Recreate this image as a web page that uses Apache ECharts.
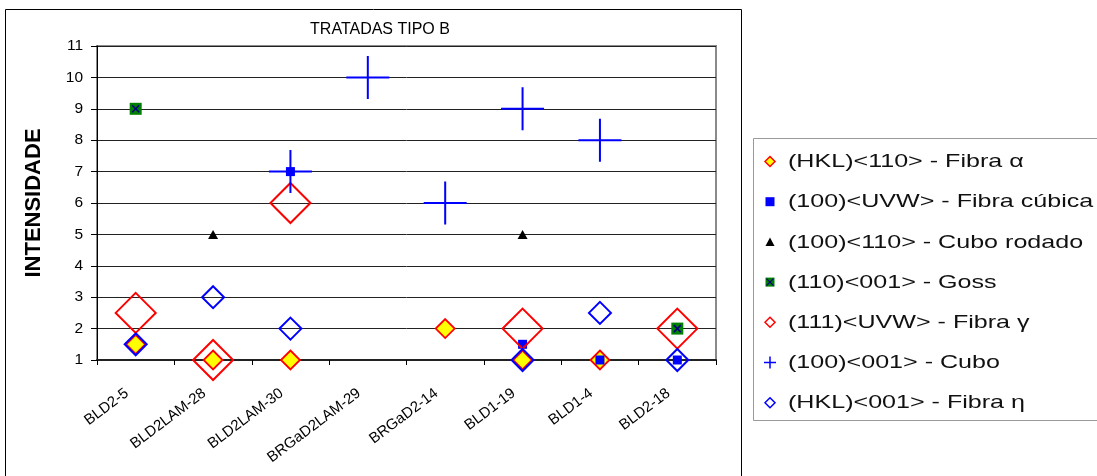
<!DOCTYPE html>
<html>
<head>
<meta charset="utf-8">
<script src="https://cdn.jsdelivr.net/npm/echarts@6/dist/echarts.min.js"></script>
<style>
html,body{margin:0;padding:0;background:#fff;}
#chart{width:1097px;height:476px;}
</style>
</head>
<body>
<div id="chart"></div>
<script>
// ---- data ----
const categories = ['BLD2-5', 'BLD2LAM-28', 'BLD2LAM-30', 'BRGaD2LAM-29', 'BRGaD2-14', 'BLD1-19', 'BLD1-4', 'BLD2-18'];
const seriesNames = [
  '(HKL)<110> - Fibra α',
  '(100)<UVW> - Fibra cúbica',
  '(100)<110> - Cubo rodado',
  '(110)<001> - Goss',
  '(111)<UVW> - Fibra γ',
  '(100)<001> - Cubo',
  '(HKL)<001> - Fibra η'
];
const fibraAlpha  = [1.5, 1, 1, null, 2, 1, 1, null];
const fibraCubica = [null, null, 7, null, null, 1.5, 1, 1];
const cuboRodado  = [null, 5, null, null, null, 5, null, null];
const goss        = [9, null, null, null, null, null, null, 2];
const fibraGamma  = [2.5, 1, 6, null, null, 2, null, 2];
const cubo        = [null, null, 7, 10, 6, 9, 8, null];
const fibraEta    = [1.5, 3, 2, null, null, 1, 2.5, 1];
const chartTitle = 'TRATADAS TIPO B';
const yAxisTitle = 'INTENSIDADE';
const yMin = 1, yMax = 11, yStep = 1;

// ---- chart ----
const prep = a => a.map(v => (v == null ? '-' : v));
const PLUS = 'path://M0,22H44M22,0V44';
const XMARK = 'path://M0,0L10,10M10,0L0,10';
const FONT = '"Liberation Sans", Arial, sans-serif';

const chart = echarts.init(document.getElementById('chart'), null, {renderer: 'canvas'});

function legendIcon(i, cy) {
  const cx = 770, s = 5;
  const diamond = (fill, stroke) => ({type: 'polygon', shape: {points: [[cx, cy - s], [cx + s, cy], [cx, cy + s], [cx - s, cy]]}, style: {fill: fill, stroke: stroke, lineWidth: 1.5}});
  switch (i) {
    case 0: return [diamond('#FFFF00', '#FF0000')];
    case 1: return [{type: 'rect', shape: {x: cx - 4.5, y: cy - 4.5, width: 9, height: 9}, style: {fill: '#0000FF'}}];
    case 2: return [{type: 'polygon', shape: {points: [[cx, cy - 4.5], [cx + 4.5, cy + 4], [cx - 4.5, cy + 4]]}, style: {fill: '#000'}}];
    case 3: return [
      {type: 'rect', shape: {x: cx - 4.5, y: cy - 4.5, width: 9, height: 9}, style: {fill: '#008000'}},
      {type: 'polyline', shape: {points: [[cx - 3.5, cy - 3.5], [cx + 3.5, cy + 3.5]]}, style: {stroke: '#000080', lineWidth: 1.3, fill: null}},
      {type: 'polyline', shape: {points: [[cx + 3.5, cy - 3.5], [cx - 3.5, cy + 3.5]]}, style: {stroke: '#000080', lineWidth: 1.3, fill: null}}
    ];
    case 4: return [diamond(null, '#FF0000')];
    case 5: return [
      {type: 'line', shape: {x1: cx - 6, y1: cy, x2: cx + 6, y2: cy}, style: {stroke: '#0000FF', lineWidth: 1.5}},
      {type: 'line', shape: {x1: cx, y1: cy - 6, x2: cx, y2: cy + 6}, style: {stroke: '#0000FF', lineWidth: 1.5}}
    ];
    case 6: return [diamond(null, '#0000FF')];
  }
}

const legendTop = 161.5, legendStep = 40.2;
const graphics = [
  {type: 'rect', shape: {x: 5.5, y: 9.5, width: 736, height: 500}, style: {fill: null, stroke: '#000', lineWidth: 1}, silent: true},
  {type: 'rect', shape: {x: 753.5, y: 138.5, width: 400, height: 282}, style: {fill: '#fff', stroke: '#9a9a9a', lineWidth: 1}, silent: true}
];
seriesNames.forEach((name, i) => {
  const cy = legendTop + i * legendStep;
  legendIcon(i, cy).forEach(g => { g.silent = true; graphics.push(g); });
  graphics.push({
    type: 'text', x: 788, y: cy + 0.5, scaleX: 1.32, silent: true,
    style: {text: name, fill: '#111', font: '19px ' + FONT, verticalAlign: 'middle', align: 'left'}
  });
});

const option = {
  animation: false,
  backgroundColor: '#fff',
  title: {
    text: chartTitle, left: 375, top: 17, textAlign: 'center',
    textStyle: {fontFamily: FONT, fontSize: 16, fontWeight: 'normal', color: '#000'}
  },
  grid: {left: 97, right: 381, top: 46, bottom: 116, show: true, borderColor: '#8a8a8a', borderWidth: 2, backgroundColor: 'transparent'},
  xAxis: {
    type: 'category', data: categories, boundaryGap: true,
    axisLine: {lineStyle: {color: '#222', width: 2}},
    axisTick: {show: true, length: 5, alignWithLabel: false, lineStyle: {color: '#000'}},
    axisLabel: {rotate: 37, fontFamily: FONT, fontSize: 15, color: '#000', margin: 25, padding: [0, 11, 0, 0], interval: 0},
    splitLine: {show: false}
  },
  yAxis: {
    type: 'value', min: yMin, max: yMax, interval: yStep,
    name: yAxisTitle, nameLocation: 'middle', nameGap: 52, nameRotate: 90,
    nameTextStyle: {fontFamily: FONT, fontSize: 22, fontWeight: 'bold', color: '#000'},
    axisLine: {show: true, lineStyle: {color: '#000', width: 1}},
    axisTick: {show: true, length: 6, lineStyle: {color: '#000'}},
    axisLabel: {fontFamily: FONT, fontSize: 15.5, color: '#000', margin: 14},
    splitLine: {show: true, lineStyle: {color: '#222', width: 1}}
  },
  graphic: graphics,
  series: [
    {name: seriesNames[0], type: 'scatter', data: prep(fibraAlpha), symbol: 'diamond', symbolSize: 19, clip: false,
     itemStyle: {color: '#FFFF00', borderColor: '#FF0000', borderWidth: 1.8, opacity: 1}},
    {name: seriesNames[1], type: 'scatter', data: prep(fibraCubica), symbol: 'rect', symbolSize: 9, clip: false,
     itemStyle: {color: '#0000FF', opacity: 1}},
    {name: seriesNames[2], type: 'scatter', data: prep(cuboRodado), symbol: 'triangle', symbolSize: [10, 9], clip: false,
     itemStyle: {color: '#000', opacity: 1}},
    {name: seriesNames[3], type: 'scatter', data: prep(goss), symbol: 'rect', symbolSize: 12, clip: false,
     itemStyle: {color: '#008000', opacity: 1}},
    {name: seriesNames[3] + ' ', type: 'scatter', data: prep(goss), symbol: XMARK, symbolSize: 7, clip: false,
     itemStyle: {color: 'transparent', borderColor: '#000080', borderWidth: 1.6, opacity: 1}},
    {name: seriesNames[4], type: 'scatter', data: prep(fibraGamma), symbol: 'diamond', symbolSize: 40, clip: false,
     itemStyle: {color: 'transparent', borderColor: '#FF0000', borderWidth: 2, opacity: 1}},
    {name: seriesNames[5], type: 'scatter', data: prep(cubo), symbol: PLUS, symbolSize: 43, clip: false,
     itemStyle: {color: 'transparent', borderColor: '#0000FF', borderWidth: 2, opacity: 1}},
    {name: seriesNames[6], type: 'scatter', data: prep(fibraEta), symbol: 'diamond', symbolSize: 22, clip: false,
     itemStyle: {color: 'transparent', borderColor: '#0000FF', borderWidth: 2, opacity: 1}}
  ]
};
chart.setOption(option);
</script>
</body>
</html>
